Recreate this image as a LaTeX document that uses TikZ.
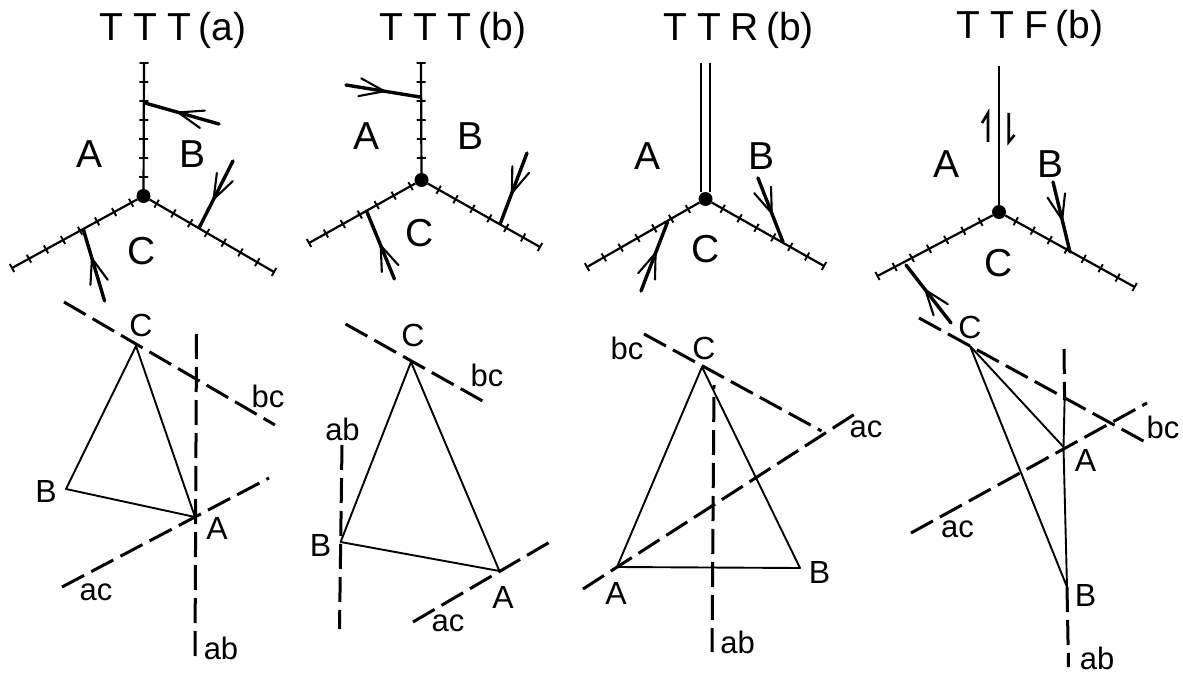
\documentclass[tikz,border=0pt]{standalone}
\usepackage{fontspec}
\setmainfont{Liberation Sans}
\usetikzlibrary{decorations.markings}
\tikzset{
  tickline/.style={line width=2.2pt,postaction={decorate,decoration={markings,
    mark=between positions 0 and 1 step #1 with {\draw[line width=1.9pt] (0,-4.5pt) -- (0,4.5pt);}}}},
  tickline/.default=19.4pt,
  sliparrow/.style={line width=3.4pt,line cap=round,postaction={decorate,decoration={markings,
    mark=at position #1 with {\draw[line width=2.1pt] (-25pt,9pt) -- (0,0) -- (-25pt,-9pt);}}}},
  sliparrow/.default=0.56,
  junction/.style={circle,fill=black,inner sep=0pt,minimum size=14pt},
  triside/.style={line width=1.9pt,line join=round},
  trace/.style={line width=3pt,dash pattern=on 25pt off 8pt},
  titletext/.style={font=\fontsize{39}{40}\selectfont,inner sep=0pt},
  platetext/.style={font=\fontsize{39}{40}\selectfont,inner sep=0pt},
  vertextext/.style={font=\fontsize{32}{34}\selectfont,inner sep=0pt},
  linetext/.style={font=\fontsize{31}{33}\selectfont,inner sep=0pt}
}
\newcommand{\spaced}[4]{#1\hspace{10pt}#2\hspace{10pt}#3\hspace{7pt}(#4)}
\begin{document}
\begin{tikzpicture}[x=1pt,y=-1pt]
  \useasboundingbox (0,0) rectangle (1183,674);

  % TTT(a)
  \node[titletext] (title1) at (173,30) {\spaced{T}{T}{T}{a}};
  \node[junction] (J1) at (143.5,196) {};
  \coordinate (top1) at (144,63);
  \coordinate (left1) at (12,268);
  \coordinate (right1) at (274,272);
  \draw[tickline=19pt] (top1) -- (J1);
  \draw[tickline] (left1) -- (J1);
  \draw[tickline] (right1) -- (J1);
  \coordinate (fa1) at (219,124); \coordinate (ta1) at (145,103);
  \coordinate (fb1) at (233,161); \coordinate (tb1) at (199.5,227);
  \coordinate (fc1) at (104.6,301); \coordinate (tc1) at (83.5,230);
  \draw[sliparrow=0.55] (fa1) -- (ta1);
  \draw[sliparrow=0.58] (fb1) -- (tb1);
  \draw[sliparrow=0.6] (fc1) -- (tc1);
  \node[platetext] (plA1) at (90,154) {A};
  \node[platetext] (plB1) at (193,154) {B};
  \node[platetext] (plC1) at (142,251) {C};

  \coordinate (a1) at (195,517);
  \coordinate (b1) at (66,489);
  \coordinate (c1) at (136,346);
  \draw[triside] (a1) -- (b1) -- (c1) -- cycle;
  \coordinate (bcs1) at (64,302); \coordinate (bce1) at (275,425);
  \coordinate (abs1) at (196.5,334); \coordinate (abe1) at (195,657);
  \coordinate (acs1) at (62,587); \coordinate (ace1) at (269,478);
  \draw[trace] (bcs1) -- (bce1);
  \draw[trace] (abs1) -- (abe1);
  \draw[trace] (acs1) -- (ace1);
  \node[vertextext] (vC1) at (141,325) {C};
  \node[vertextext] (vB1) at (46,491) {B};
  \node[vertextext] (vA1) at (217,528) {A};
  \node[linetext] (lbc1) at (268,396) {bc};
  \node[linetext] (lac1) at (96,592) {ac};
  \node[linetext] (lab1) at (221,648) {ab};

  % TTT(b)
  \node[titletext] (title2) at (453,30) {\spaced{T}{T}{T}{b}};
  \node[junction] (J2) at (421.5,180) {};
  \coordinate (top2) at (421,63);
  \coordinate (left2) at (309,243);
  \coordinate (right2) at (540,247);
  \draw[tickline=19pt] (top2) -- (J2);
  \draw[tickline] (left2) -- (J2);
  \draw[tickline] (right2) -- (J2);
  \coordinate (fa2) at (346,85); \coordinate (ta2) at (420,97);
  \coordinate (fb2) at (527,153); \coordinate (tb2) at (500.5,223);
  \coordinate (fc2) at (394.4,279); \coordinate (tc2) at (367,212);
  \draw[sliparrow=0.52] (fa2) -- (ta2);
  \draw[sliparrow=0.57] (fb2) -- (tb2);
  \draw[sliparrow=0.5] (fc2) -- (tc2);
  \node[platetext] (plA2) at (367,136) {A};
  \node[platetext] (plB2) at (470.5,136) {B};
  \node[platetext] (plC2) at (420,233) {C};

  \coordinate (a2) at (499.4,571);
  \coordinate (b2) at (340.6,542);
  \coordinate (c2) at (411,362);
  \draw[triside] (a2) -- (b2) -- (c2) -- cycle;
  \coordinate (bcs2) at (345.5,324); \coordinate (bce2) at (488,404);
  \coordinate (abs2) at (342,445); \coordinate (abe2) at (339.5,629);
  \coordinate (acs2) at (413,622); \coordinate (ace2) at (555,539);
  \draw[trace] (bcs2) -- (bce2);
  \draw[trace] (abs2) -- (abe2);
  \draw[trace] (acs2) -- (ace2);
  \node[vertextext] (vC2) at (413,335) {C};
  \node[vertextext] (vB2) at (320.6,545) {B};
  \node[vertextext] (vA2) at (503,597) {A};
  \node[linetext] (lbc2) at (487,375) {bc};
  \node[linetext] (lab2) at (342.5,429) {ab};
  \node[linetext] (lac2) at (448,623) {ac};

  % TTR(b)
  \node[titletext] (title3) at (738.5,30) {\spaced{T}{T}{R}{b}};
  \node[junction] (J3) at (705.5,199) {};
  \coordinate (top3) at (705.5,63);
  \coordinate (left3) at (587,267);
  \coordinate (right3) at (824,266);
  \draw[double,double distance=6.5pt,line width=1.8pt] (top3) -- (J3);
  \draw[tickline] (left3) -- (J3);
  \draw[tickline] (right3) -- (J3);
  \coordinate (fa3) at (758,178); \coordinate (ta3) at (783,242);
  \coordinate (fb3) at (641,291); \coordinate (tb3) at (667.5,222);
  \draw[sliparrow=0.55] (fa3) -- (ta3);
  \draw[sliparrow=0.55] (fb3) -- (tb3);
  \node[platetext] (plA3) at (647.5,156) {A};
  \node[platetext] (plB3) at (761,156) {B};
  \node[platetext] (plC3) at (706,249) {C};

  \coordinate (a3) at (617,567);
  \coordinate (b3) at (800,568);
  \coordinate (c3) at (702,367);
  \draw[triside] (a3) -- (b3) -- (c3) -- cycle;
  \coordinate (bcs3) at (644,334); \coordinate (bce3) at (821.5,431);
  \coordinate (abs3) at (714,385); \coordinate (abe3) at (712,652);
  \coordinate (acs3) at (583,589); \coordinate (ace3) at (858,412);
  \draw[trace] (bcs3) -- (bce3);
  \draw[trace,dash phase=21pt] (abs3) -- (abe3);
  \draw[trace] (acs3) -- (ace3);
  \node[vertextext] (vC3) at (704,348) {C};
  \node[vertextext] (vB3) at (819.5,572) {B};
  \node[vertextext] (vA3) at (616,593) {A};
  \node[linetext] (lbc3) at (627,348) {bc};
  \node[linetext] (lac3) at (866,429) {ac};
  \node[linetext] (lab3) at (737.5,642) {ab};

  % TTF(b)
  \node[titletext] (title4) at (1030,28) {\spaced{T}{T}{F}{b}};
  \node[junction] (J4) at (999,212) {};
  \coordinate (top4) at (999,66);
  \coordinate (left4) at (877.5,276);
  \coordinate (right4) at (1134.6,287);
  \draw[line width=2.2pt] (top4) -- (J4);
  \draw[tickline] (left4) -- (J4);
  \draw[tickline] (right4) -- (J4);
  \coordinate (fa4) at (1053,182); \coordinate (ta4) at (1070,252);
  \coordinate (fb4) at (951,323); \coordinate (tb4) at (906,265);
  \draw[sliparrow=0.54] (fa4) -- (ta4);
  \draw[sliparrow=0.57] (fb4) -- (tb4);
  \coordinate (hl4) at (988,142); \coordinate (hlt4) at (988,113); \coordinate (hlb4) at (982,123);
  \coordinate (hr4) at (1008.7,113); \coordinate (hrt4) at (1008.7,142); \coordinate (hrb4) at (1014.5,135);
  \draw[line width=2.6pt] (hl4) -- (hlt4) -- (hlb4);
  \draw[line width=2.6pt] (hr4) -- (hrt4) -- (hrb4);
  \node[platetext] (plA4) at (946,164) {A};
  \node[platetext] (plB4) at (1050.7,164) {B};
  \node[platetext] (plC4) at (998.5,263) {C};

  \coordinate (a4) at (1063.5,447);
  \coordinate (b4) at (1067,587);
  \coordinate (c4) at (970,346);
  \draw[triside] (a4) -- (b4) -- (c4) -- cycle;
  \coordinate (bcs4) at (919,318); \coordinate (bce4) at (1147,443);
  \coordinate (abs4) at (1064,349); \coordinate (abm4) at (1064.6,400); \coordinate (abe4) at (1068.5,667);
  \coordinate (acs4) at (911,533); \coordinate (ace4) at (1147,403);
  \draw[trace] (bcs4) -- (bce4);
  \draw[trace] (abs4) -- (abm4);
  \draw[triside] (abm4) -- (a4);
  \draw[trace] (b4) -- (abe4);
  \draw[trace] (acs4) -- (ace4);
  \node[vertextext] (vC4) at (970,327) {C};
  \node[vertextext] (vA4) at (1085.5,460) {A};
  \node[vertextext] (vB4) at (1085.5,595) {B};
  \node[linetext] (lbc4) at (1163,427) {bc};
  \node[linetext] (lac4) at (957.6,529) {ac};
  \node[linetext] (lab4) at (1097,658) {ab};
\end{tikzpicture}
\end{document}
